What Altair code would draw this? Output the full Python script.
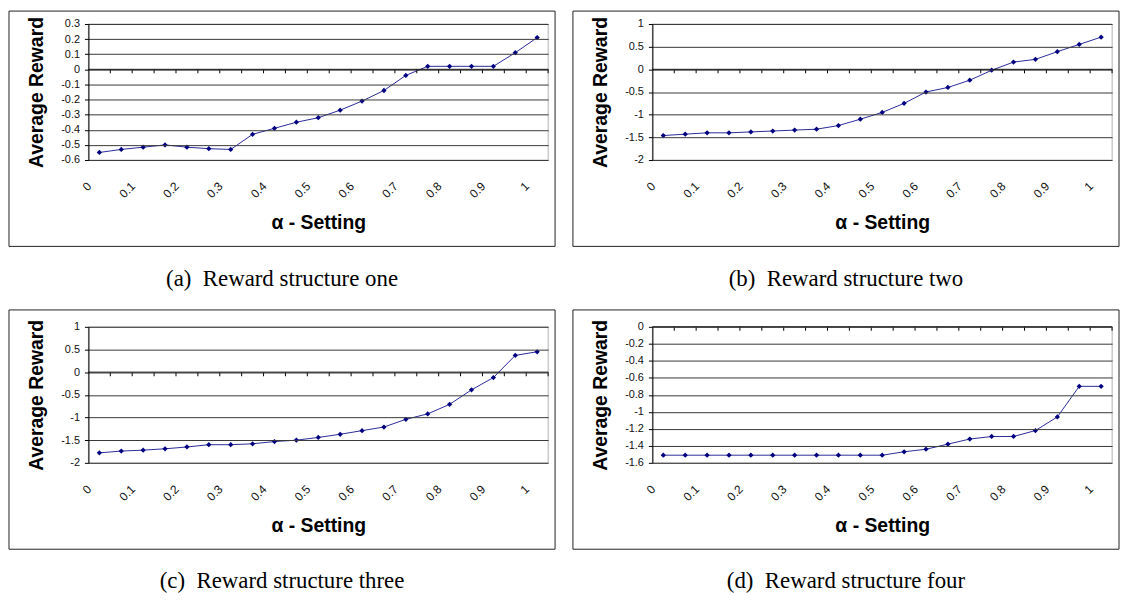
import altair as alt
import pandas as pd

# ---- data ----
alphas = [0, 0.05, 0.1, 0.15, 0.2, 0.25, 0.3, 0.35, 0.4, 0.45, 0.5,
          0.55, 0.6, 0.65, 0.7, 0.75, 0.8, 0.85, 0.9, 0.95, 1.0]

reward_one = [-0.55, -0.53, -0.515, -0.50, -0.515, -0.525, -0.53, -0.43, -0.39, -0.35, -0.32,
              -0.27, -0.21, -0.14, -0.04, 0.02, 0.02, 0.02, 0.02, 0.11, 0.21]
reward_two = [-1.46, -1.43, -1.40, -1.40, -1.38, -1.36, -1.34, -1.32, -1.24, -1.10, -0.95,
              -0.75, -0.50, -0.40, -0.24, -0.02, 0.16, 0.22, 0.39, 0.55, 0.71]
reward_three = [-1.78, -1.74, -1.72, -1.69, -1.65, -1.60, -1.60, -1.58, -1.53, -1.50, -1.44,
                -1.37, -1.29, -1.21, -1.04, -0.92, -0.71, -0.39, -0.12, 0.37, 0.45]
reward_four = [-1.51, -1.51, -1.51, -1.51, -1.51, -1.51, -1.51, -1.51, -1.51, -1.51, -1.51,
               -1.47, -1.44, -1.38, -1.32, -1.29, -1.29, -1.22, -1.06, -0.70, -0.70]

captions = ["(a)\u2002Reward structure one", "(b)\u2002Reward structure two",
            "(c)\u2002Reward structure three", "(d)\u2002Reward structure four"]

domain_one = [-0.6, 0.3]
domain_two = [-2, 1]
domain_three = [-2, 1]
domain_four = [-1.6, 0]

ticks_one = [-0.6, -0.5, -0.4, -0.3, -0.2, -0.1, 0, 0.1, 0.2, 0.3]
ticks_two = [-2, -1.5, -1, -0.5, 0, 0.5, 1]
ticks_three = [-2, -1.5, -1, -0.5, 0, 0.5, 1]
ticks_four = [-1.6, -1.4, -1.2, -1, -0.8, -0.6, -0.4, -0.2, 0]

x_title = "\u03b1 - Setting"
y_title = "Average Reward"

# ---- style ----
W, H = 463, 137
BAND = W / 21
SANS = "Liberation Sans"
SERIF = "Liberation Serif"
NAVY = "#000080"
MINUS = "\u2212"


def panel(values, domain, ticks, caption, top_gap):
    df = pd.DataFrame({"alpha": alphas, "reward": values})
    one = pd.DataFrame({"k": [0]})
    xs = alt.Scale(type="band", paddingInner=0, paddingOuter=0)
    ys = alt.Scale(domain=domain, nice=False, zero=False)

    x_axis = alt.Axis(
        title=x_title, bandPosition=0, domain=False, ticks=False, tickSize=0, grid=False,
        labelAngle=-45, labelAlign="right", labelBaseline="middle", labelPadding=24,
        labelOffset=-BAND / 2 + 1, labelOverlap=False,
        labelFont=SANS, labelFontSize=12, labelColor="#111",
        labelExpr="round(datum.value*20) % 2 == 0 ? datum.label : ''",
        titleFont=SANS, titleFontSize=19.5, titleFontWeight="bold", titleColor="#000",
        titlePadding=14)
    y_axis = alt.Axis(
        title=y_title, values=ticks, tickCount=50, labelOverlap=False,
        grid=True, gridColor="#383838", gridWidth=1,
        domainColor="#000", tickColor="#000", tickSize=4, labelPadding=5,
        labelFont=SANS, labelFontSize=11, labelColor="#111",
        labelExpr=f"replace(format(datum.value, '.1~f'), '{MINUS}', '-')",
        titleFont=SANS, titleFontSize=19.5, titleFontWeight="bold", titleColor="#000",
        titlePadding=14, zindex=1)

    box = alt.Chart(one).mark_rect(filled=False, stroke="#222", strokeWidth=1).encode(
        x=alt.value(-80), x2=alt.value(W + 7), y=alt.value(-top_gap), y2=alt.value(H + 87))
    border = alt.Chart(one).mark_rect(filled=False, stroke="#c0c0c0", strokeWidth=1).encode(
        x=alt.value(0), x2=alt.value("width"), y=alt.value(0), y2=alt.value("height"))
    zero = alt.Chart(one).mark_rule(color="#000", strokeWidth=1).encode(y=alt.datum(0))
    cat_ticks = alt.Chart(df).mark_tick(orient="vertical", size=4, thickness=1, yOffset=2,
                                        color="#000", opacity=1).encode(
        x=alt.X("alpha:O", scale=xs, bandPosition=1, title=x_title),
        y=alt.datum(0))
    line = alt.Chart(df).mark_line(color="#2a2a9a", strokeWidth=1).encode(
        x=alt.X("alpha:O", scale=xs, bandPosition=0.5, axis=x_axis, title=x_title),
        y=alt.Y("reward:Q", scale=ys, axis=y_axis, title=y_title))
    pts = alt.Chart(df).mark_point(shape="diamond", filled=True, size=28, color=NAVY,
                                   opacity=1).encode(
        x=alt.X("alpha:O", scale=xs, bandPosition=0.5, title=x_title),
        y=alt.Y("reward:Q", scale=ys, title=y_title))

    return alt.layer(box, line, border, zero, cat_ticks, pts).properties(
        width=W, height=H,
        title=alt.TitleParams(caption, orient="bottom", anchor="middle", frame="bounds",
                              font=SERIF, fontSize=23, fontWeight="normal", color="#000",
                              offset=21))


chart = alt.concat(
    panel(reward_one, domain_one, ticks_one, captions[0], 13),
    panel(reward_two, domain_two, ticks_two, captions[1], 13),
    panel(reward_three, domain_three, ticks_three, captions[2], 17),
    panel(reward_four, domain_four, ticks_four, captions[3], 17),
    columns=2,
    spacing={"row": 18, "column": 16},
).configure_view(strokeWidth=0).configure(background="#ffffff", padding=0)

chart.save("out.html", embed_options={"renderer": "svg", "actions": False})
